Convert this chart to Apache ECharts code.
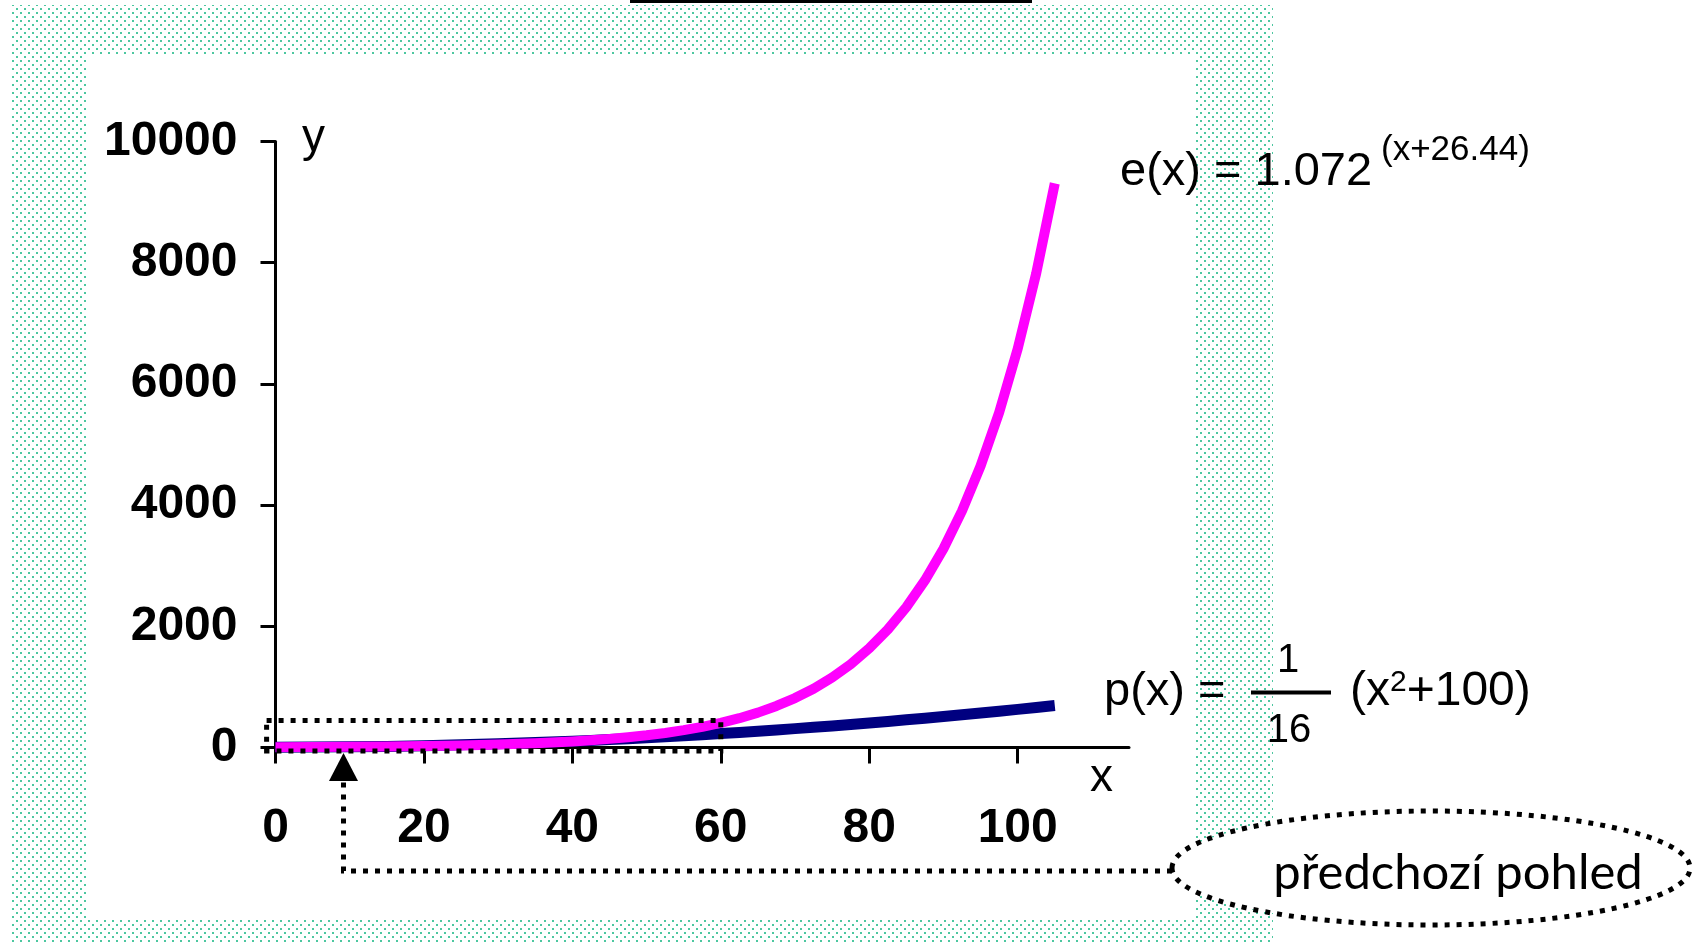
<!DOCTYPE html>
<html>
<head>
<meta charset="utf-8">
<script src="https://cdn.jsdelivr.net/npm/echarts@6/dist/echarts.min.js"></script>
<style>
html,body{margin:0;padding:0;background:#fff;}
#c{width:1694px;height:944px;}
</style>
</head>
<body>
<div id="c"></div>
<script>
// ---- data ----
const xValues = [0,5,10,15,20,25,30,35,40,42.5,45,47.5,50,52.5,55,57.5,60,62.5,65,67.5,70,72.5,75,77.5,80,82.5,85,87.5,90,92.5,95,97.5,100,102.5,105];
const eValues = [6,9,13,18,25,36,51,72,101,121,144,171,203,242,288,343,408,485,577,687,817,972,1157,1376,1638,1949,2318,2758,3282,3905,4646,5528,6578,7827,9309];
const pValues = [6,8,13,20,31,45,63,83,106,119,133,147,163,178,195,213,231,250,270,291,313,335,358,382,406,432,458,485,513,541,570,600,631,663,695];
const xTicks = [0,20,40,60,80,100];
const yTicks = [0,2000,4000,6000,8000,10000];
const prevView = [[-1.2, 447], [60, -55]];   // dotted "previous view" box in data units
const labelE = 'e(x) = 1.072';
const labelEexp = '(x+26.44)';
const labelP = 'p(x) =';
const labelPnum = '1';
const labelPden = '16';
const labelPrest = ['(x', '2', '+100)'];
const labelPrev = 'předchozí pohled';

const chart = echarts.init(document.getElementById('c'), null, {renderer:'canvas'});

const pc = document.createElement('canvas');
pc.width = 8; pc.height = 8;
const pctx = pc.getContext('2d');
pctx.fillStyle = '#4DC7A0';
pctx.fillRect(0,0,2,2);
pctx.fillRect(4,4,2,2);

const axisFont = {fontFamily:'Liberation Sans, Arial', fontWeight:'bold', fontSize:48, color:'#000'};

chart.setOption({
  animation:false,
  grid:{left:275.5, top:141.5, right:565, bottom:196.4},
  xAxis:{
    type:'value', min:0, max:115, interval:20,
    splitLine:{show:false},
    axisLine:{onZero:false, lineStyle:{color:'#000', width:3}},
    axisTick:{customValues:xTicks, length:16, lineStyle:{color:'#000', width:3}},
    axisLabel:Object.assign({customValues:xTicks, margin:57, formatter:v=>String(v)}, axisFont)
  },
  yAxis:{
    type:'value', min:0, max:10000, interval:2000,
    splitLine:{show:false},
    axisLine:{show:true, lineStyle:{color:'#000', width:3}},
    axisTick:{show:true, length:15, lineStyle:{color:'#000', width:3}},
    axisLabel:Object.assign({customValues:yTicks, margin:38, formatter:v=>String(v)}, axisFont)
  },
  series:[
    {type:'line', name:'p', data:xValues.map((x,i)=>[x,pValues[i]]), showSymbol:false,
     lineStyle:{color:'#000080', width:11, join:'round'}, z:2},
    {type:'line', name:'e', data:xValues.map((x,i)=>[x,eValues[i]]), showSymbol:false,
     lineStyle:{color:'#FF00FF', width:10, join:'round'}, z:3}
  ]
});

const p1 = chart.convertToPixel({gridIndex:0}, prevView[0]);
const p2 = chart.convertToPixel({gridIndex:0}, prevView[1]);
const dash = {stroke:'#000', lineWidth:5, lineDash:[5,7], fill:null};
const txt = (text, x, y, size, align, extra) => Object.assign({type:'text', style:Object.assign({
  text:text, x:x, y:y, fontSize:size, fontFamily:'Liberation Sans, Arial', fill:'#000',
  align:align||'left', verticalAlign:'middle'}, extra||{}), z:30});

chart.setOption({
  graphic:[
    {type:'rect', shape:{x:11,y:5,width:1262,height:939}, style:{fill:{image:pc, repeat:'repeat'}}, z:-100, silent:true},
    {type:'rect', shape:{x:86,y:54,width:1108,height:864}, style:{fill:'#fff'}, z:-99, silent:true},
    {type:'line', shape:{x1:630,y1:1.5,x2:1032,y2:1.5}, style:{stroke:'#000', lineWidth:3}, z:-98},
    txt('y', 302, 138, 46),
    txt('x', 1090, 778, 46),
    txt(labelE, 1120, 172, 47),
    txt(labelEexp, 1381, 150, 35),
    txt(labelP, 1104, 692, 47),
    txt(labelPnum, 1288, 661, 40, 'center'),
    txt(labelPden, 1289, 731, 40, 'center'),
    {type:'line', shape:{x1:1251,y1:692.5,x2:1331,y2:692.5}, style:{stroke:'#000', lineWidth:4}, z:30},
    {type:'text', z:30, style:{
      text:'{a|'+labelPrest[0]+'}{s|'+labelPrest[1]+'}{a|'+labelPrest[2]+'}',
      x:1350, y:692, verticalAlign:'middle', align:'left',
      rich:{a:{fontSize:48, fontFamily:'Liberation Sans, Arial', fill:'#000', lineHeight:48},
            s:{fontSize:30, fontFamily:'Liberation Sans, Arial', fill:'#000', verticalAlign:'top', lineHeight:30}}
    }},
    {type:'rect', shape:{x:p1[0], y:p1[1], width:p2[0]-p1[0], height:p2[1]-p1[1]}, style:dash, z:20},
    {type:'polyline', shape:{points:[[1172,871],[343.5,871],[343.5,781]]}, style:dash, z:20},
    {type:'polygon', shape:{points:[[343.5,753],[329,781],[358,781]]}, style:{fill:'#000'}, z:20},
    {type:'ellipse', shape:{cx:1431, cy:868, rx:259, ry:57}, style:{fill:'#fff', stroke:'#000', lineWidth:5, lineDash:[5,7]}, z:15},
    txt(labelPrev, 1458, 873, 49, 'center', {fontFamily:'Lato, Open Sans, sans-serif'})
  ]
});
</script>
</body>
</html>
